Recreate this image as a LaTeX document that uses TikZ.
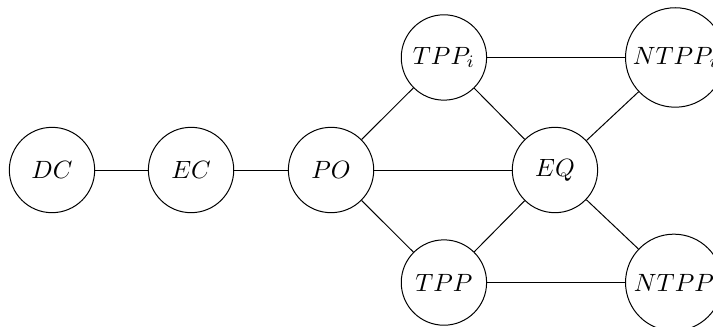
\documentclass[tikz,border=0pt]{standalone}
\usepackage{xcolor}
\usepackage{tikz}
\usetikzlibrary{shapes.geometric}
\tikzstyle{rel} = [draw,circle,minimum size=1.2cm,inner sep=2pt]
\tikzstyle{bigrel} = [rel,minimum size=1.36cm,anchor=west]
\tikzstyle{link} = [thin]

\begin{document}
\begin{tikzpicture}
            \useasboundingbox (0,0) rectangle (10.024,4.597);
            \node[rel] (dc) at (0.731,2.207) {$DC$};
            \node[rel] (ec) at (2.686,2.207) {$EC$};
            \node[rel] (po) at (4.654,2.207) {$PO$};
            \node[rel] (eq) at (7.802,2.207) {$EQ$};
            \node[rel] (tppi) at (6.241,3.789) {$TPP_i$};
            \node[rel] (tpp) at (6.241,0.625) {$TPP$};
            \node[bigrel] (ntppi) at (8.787,3.789) {$NTPP_i$};
            \node[bigrel] (ntpp) at (8.787,0.625) {$NTPP$};
            \draw [link] (dc) -- (ec);
            \draw [link] (ec) -- (po);
            \draw [link] (po) -- (tppi);
            \draw [link] (po) -- (eq);
            \draw [link] (po) -- (tpp);
            \draw [link] (tppi) -- (eq);
            \draw [link] (tpp) -- (eq);
            \draw [link] (tppi) -- (ntppi);
            \draw [link] (tpp) -- (ntpp);
            \draw [link] (eq) -- (ntppi);
            \draw [link] (eq) -- (ntpp);
        \end{tikzpicture}
\end{document}
